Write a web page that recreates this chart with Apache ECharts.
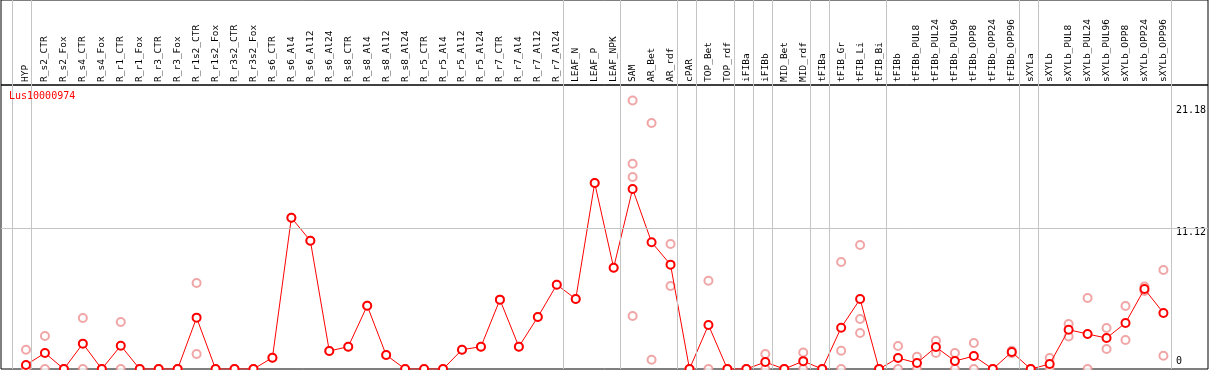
<!DOCTYPE html>
<html>
<head>
<meta charset="utf-8">
<script src="https://cdn.jsdelivr.net/npm/echarts@6/dist/echarts.min.js"></script>
<style>
  html, body { margin: 0; padding: 0; background: #fff; }
  #chart { width: 1209px; height: 370px; }
</style>
</head>
<body>
<div id="chart"></div>
<script>
// ---------------- data ----------------
const seriesName = 'Lus10000974';

const categories = [
  'HYP','R_s2_CTR','R_s2_Fox','R_s4_CTR','R_s4_Fox','R_r1_CTR','R_r1_Fox','R_r3_CTR','R_r3_Fox',
  'R_r1s2_CTR','R_r1s2_Fox','R_r3s2_CTR','R_r3s2_Fox','R_s6_CTR','R_s6_Al4','R_s6_Al12','R_s6_Al24',
  'R_s8_CTR','R_s8_Al4','R_s8_Al12','R_s8_Al24','R_r5_CTR','R_r5_Al4','R_r5_Al12','R_r5_Al24',
  'R_r7_CTR','R_r7_Al4','R_r7_Al12','R_r7_Al24','LEAF_N','LEAF_P','LEAF_NPK','SAM','AR_Bet','AR_rdf',
  'cPAR','TOP_Bet','TOP_rdf','iFIBa','iFIBb','MID_Bet','MID_rdf','tFIBa','tFIB_Gr','tFIB_Li','tFIB_Bi',
  'tFIBb','tFIBb_PUL8','tFIBb_PUL24','tFIBb_PUL96','tFIBb_OPP8','tFIBb_OPP24','tFIBb_OPP96',
  'sXYLa','sXYLb','sXYLb_PUL8','sXYLb_PUL24','sXYLb_PUL96','sXYLb_OPP8','sXYLb_OPP24','sXYLb_OPP96'
];

const meanValues = [
  0.32, 1.26, 0, 2.0, 0, 1.84, 0, 0, 0, 4.05, 0, 0, 0, 0.89, 11.93, 10.12, 1.42,
  1.76, 4.99, 1.1, 0, 0, 0, 1.52, 1.76, 5.47, 1.76, 4.1, 6.65, 5.52, 14.67, 7.99,
  14.2, 10.0, 8.23, 0, 3.47, 0, 0, 0.55, 0, 0.62, 0, 3.26, 5.52, 0,
  0.87, 0.47, 1.73, 0.63, 1.02, 0, 1.34, 0, 0.39, 3.1, 2.76, 2.44, 3.63, 6.31, 4.42
];

const replicateValues = [
  [1.52,0,0,0,0], [2.6,0], [0,0], [4.02,0], [0,0], [3.7,0], [0,0], [0,0], [0,0],
  [6.78,1.18], [0,0], [0,0], [0,0], [0.89], [11.93], [10.12], [1.42],
  [1.76], [4.99], [1.1], [0], [0], [0], [1.52], [1.76],
  [5.47], [1.76], [4.1], [6.65], [5.52], [14.67], [7.99],
  [21.18,16.19,15.14,4.18], [19.4,0.73], [9.86,6.55],
  [0,0], [6.96,0], [0,0], [0,0], [1.18,0], [0,0], [1.3,0], [0,0],
  [8.44,1.44,0], [9.78,3.94,2.84], [0,0],
  [1.81,0], [0.97,0], [2.23,1.26], [1.26,0], [2.05,0], [0,0], [1.44,1.24],
  [0,0], [0.87,0], [3.55,2.57], [5.6,0], [3.23,1.58], [4.97,2.29], [6.51,6.15], [7.81,1.05]
];

// group separators: drawn just after these category indices
const separatorAfter = [-1, 0, 28, 31, 34, 35, 37, 38, 39, 41, 42, 45, 52, 53, 60];

const yTickValues = [0, 11.12, 21.18];
const yTickLabels = ['0', '11.12', '21.18'];

// ---------------- layout ----------------
const W = 1209;
const PLOT_L = 16.5, PLOT_R = 33.5, HEADER = 85, BOTTOM = 1;
const unit = (W - PLOT_L - PLOT_R) / categories.length;
const Y_MAX = 22.4;
const SEP_OFFSET = 0.25;
const sepMin = -0.5 - (PLOT_L - 1) / unit;
const sepMax = categories.length - 0.5 + (PLOT_R - 1) / unit;

const MONO = "'DejaVu Sans Mono', 'Liberation Mono', monospace";

const replicatePoints = [];
replicateValues.forEach((vals, i) => vals.forEach(v => replicatePoints.push([i, v])));

const richCls = ['lo', 'mid', 'hi'];

const chart = echarts.init(document.getElementById('chart'), null, { renderer: 'canvas' });
chart.setOption({
  animation: false,
  backgroundColor: '#fff',
  title: {
    text: seriesName, left: 9, top: 91, padding: 0,
    textStyle: { color: '#ff0000', fontSize: 10, fontWeight: 'normal', fontFamily: MONO }
  },
  grid: [
    { left: 1, right: 1, top: HEADER, bottom: BOTTOM, show: true, borderColor: '#000', borderWidth: 1, backgroundColor: 'transparent' },
    { left: 1, right: 1, top: 0, height: HEADER, show: true, borderColor: '#000', borderWidth: 1, backgroundColor: 'transparent' },
    { left: PLOT_L, right: PLOT_R, top: HEADER, bottom: BOTTOM },
    { left: 1, right: 1, top: 0, bottom: BOTTOM }
  ],
  xAxis: [
    { gridIndex: 0, type: 'value', min: 0, max: 1, show: false },
    { gridIndex: 1, type: 'value', min: 0, max: 1, show: false },
    {
      gridIndex: 2, type: 'category', data: categories, position: 'top', boundaryGap: true,
      axisLine: { show: false }, axisTick: { show: false }, splitLine: { show: false },
      axisLabel: { interval: 0, rotate: 90, margin: 3, color: '#000', fontSize: 9.5, fontFamily: MONO }
    },
    { gridIndex: 3, type: 'value', min: sepMin, max: sepMax, show: false }
  ],
  yAxis: [
    { gridIndex: 0, type: 'value', min: 0, max: Y_MAX, show: false },
    { gridIndex: 1, type: 'value', min: 0, max: 1, show: false },
    {
      gridIndex: 2, type: 'value', min: 0, max: Y_MAX, position: 'right',
      splitLine: { show: false }, axisLine: { show: false }, axisTick: { show: false },
      axisLabel: {
        customValues: yTickValues, margin: 3, color: '#000', fontSize: 10, fontFamily: MONO,
        formatter: function (v) {
          const i = yTickValues.indexOf(v);
          return '{' + richCls[i] + '|' + yTickLabels[i] + '}';
        },
        rich: {
          lo: { fontSize: 10, fontFamily: MONO, color: '#000', padding: [0, 0, 15, 0] },
          mid: { fontSize: 10, fontFamily: MONO, color: '#000', padding: [8, 0, 0, 0] },
          hi: { fontSize: 10, fontFamily: MONO, color: '#000', padding: [20, 0, 0, 0] }
        }
      }
    },
    { gridIndex: 3, type: 'value', min: 0, max: 1, show: false }
  ],
  series: [
    {
      type: 'line', xAxisIndex: 0, yAxisIndex: 0, data: [], silent: true, z: 1,
      markLine: {
        silent: true, symbol: 'none', label: { show: false },
        lineStyle: { color: '#c4c4c4', width: 1, type: 'solid' },
        data: [{ yAxis: yTickValues[1] }]
      }
    },
    {
      type: 'line', xAxisIndex: 3, yAxisIndex: 3, data: [], silent: true, z: 1,
      markLine: {
        silent: true, symbol: 'none', label: { show: false },
        lineStyle: { color: '#c4c4c4', width: 1, type: 'solid' },
        data: separatorAfter.map(k => ({ xAxis: k + SEP_OFFSET }))
      }
    },
    {
      name: seriesName + ' replicates', type: 'scatter', xAxisIndex: 2, yAxisIndex: 2,
      data: replicatePoints, symbol: 'emptyCircle', symbolSize: 8, z: 3,
      itemStyle: { color: '#ec9090', borderColor: '#ec9090', borderWidth: 1.1 }
    },
    {
      name: seriesName, type: 'line', xAxisIndex: 2, yAxisIndex: 2,
      data: meanValues, symbol: 'emptyCircle', symbolSize: 8, z: 4,
      lineStyle: { color: '#ff0000', width: 1 },
      itemStyle: { color: '#ff0000', borderColor: '#ff0000', borderWidth: 1.3 }
    }
  ]
});
</script>
</body>
</html>
